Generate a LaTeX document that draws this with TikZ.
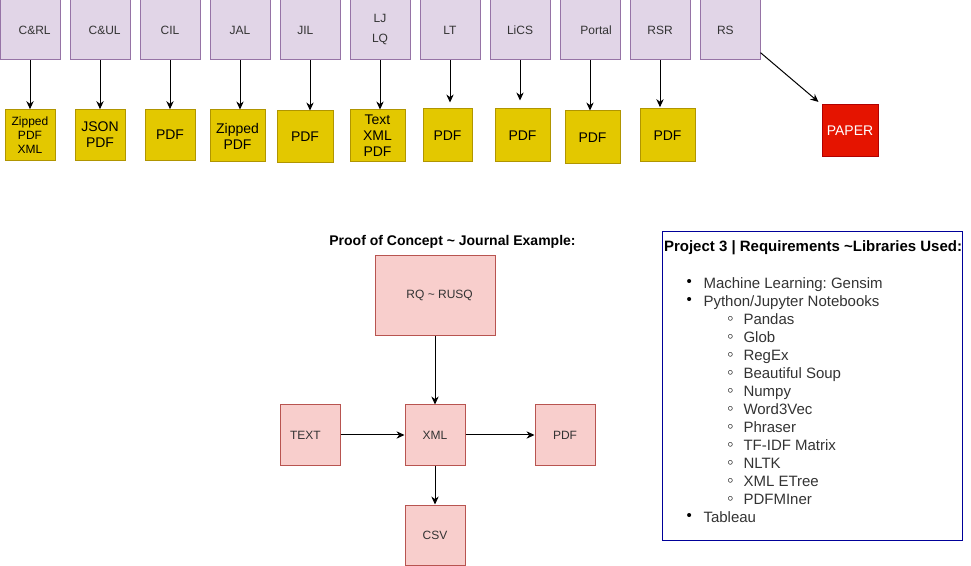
\documentclass[tikz,border=0pt]{standalone}
\usepackage{fontspec}
\setmainfont{Liberation Sans}
\usetikzlibrary{arrows.meta}
\frenchspacing

\definecolor{srcfill}{HTML}{E1D5E7}
\definecolor{srcline}{HTML}{9673A6}
\definecolor{fmtfill}{HTML}{E3C800}
\definecolor{fmtline}{HTML}{B09500}
\definecolor{paperfill}{HTML}{E51400}
\definecolor{paperline}{HTML}{B20000}
\definecolor{pocfill}{HTML}{F8CECC}
\definecolor{pocline}{HTML}{B85450}
\definecolor{libline}{HTML}{000099}
\definecolor{libtext}{HTML}{333333}

\begin{document}
\begin{tikzpicture}[x=0.75pt,y=-0.75pt,->,>={Stealth[length=6pt,width=5.5pt]},
		line width=0.75pt,node distance=52.5pt,
		src node/.style={rectangle,draw=srcline,fill=srcfill,minimum width=45pt,minimum height=45pt,
			inner sep=0pt,align=center,text=libtext,font=\fontsize{9}{15}\selectfont},
		fmt node/.style={rectangle,draw=fmtline,fill=fmtfill,minimum width=41.25pt,minimum height=39pt,
			inner sep=0pt,align=center,font=\fontsize{10.5}{12}\selectfont},
		narrow/.style={minimum width=37.5pt,minimum height=38pt},
		paper node/.style={rectangle,draw=paperline,fill=paperfill,minimum width=42pt,minimum height=39pt,
			inner sep=0pt,text=white,font=\fontsize{10.5}{12}\selectfont},
		poc node/.style={rectangle,draw=pocline,fill=pocfill,minimum width=45pt,minimum height=45pt,
			inner sep=0pt,text=libtext,font=\fontsize{9}{11}\selectfont},
		lib item/.style={anchor=west,inner sep=0pt,text height=8pt,text depth=0pt,text=libtext,
			font=\fontsize{11.25}{13.5}\selectfont,
			label={[label distance=8pt,inner sep=0pt,text=black,font=\fontsize{11.25}{13.5}\selectfont]left:\textbullet}},
		sub item/.style={anchor=west,inner sep=0pt,text height=8pt,text depth=0pt,text=libtext,
			font=\fontsize{11.25}{13.5}\selectfont,
			label={[label distance=7pt,inner sep=0pt,text=black,font=\fontsize{8}{9}\selectfont]left:$\circ$}}]

		\useasboundingbox (0,0) rectangle (971,566);

		% journals
		\node[src node] (crl) at (30,30) {\hspace*{7pt}C\&RL};
		\node[src node] (cul) [right of=crl] {\hspace*{7pt}C\&UL};
		\node[src node] (cil) [right of=cul] {CIL};
		\node[src node] (jal) [right of=cil] {JAL};
		\node[src node] (jil) [right of=jal] {JIL\hspace*{7pt}};
		\node[src node] (lj) [right of=jil] {LJ\\LQ};
		\node[src node] (lt) [right of=lj] {LT};
		\node[src node] (lics) [right of=lt] {LiCS};
		\node[src node] (portal) [right of=lics] {\hspace*{9pt}Portal};
		\node[src node] (rsr) [right of=portal] {RSR};
		\node[src node] (rs) [right of=rsr] {RS\hspace*{7pt}};

		% formats
		\node[fmt node,narrow,font=\fontsize{9}{10.5}\selectfont] (crlf) at (30,135) {Zipped\\PDF\\XML};
		\node[fmt node,narrow] (culf) at (100,135) {JSON\\PDF};
		\node[fmt node,narrow] (cilf) at (170,135) {PDF};
		\node[fmt node] (jalf) at (237.5,136) {Zipped\\PDF};
		\node[fmt node,minimum width=42pt] (jilf) at (305,137) {PDF};
		\node[fmt node] (ljf) at (377.5,136) {Text\\XML\\PDF};
		\node[fmt node,minimum width=36.75pt,minimum height=39.75pt] (ltf) at (447.5,135.5) {PDF};
		\node[fmt node,minimum height=39.75pt] (licsf) at (522.5,135.5) {PDF};
		\node[fmt node,minimum height=39.75pt] (portalf) at (592.5,137.5) {PDF};
		\node[fmt node,minimum height=39.75pt] (rsrf) at (667.5,135.5) {PDF};
		\node[paper node] (paper) at (850,131) {PAPER};

		\path
		(crl) edge (crl |- crlf.north)
		(cul) edge (cul |- culf.north)
		(cil) edge (cil |- cilf.north)
		(jal) edge (jal |- jalf.north)
		(jil) edge (jil |- jilf.north)
		(lj) edge (lj |- ljf.north)
		(lt) edge [shorten >=4.5pt] (lt |- ltf.north)
		(lics) edge [shorten >=6pt] (lics |- licsf.north)
		(portal) edge (portal |- portalf.north)
		(rsr) edge [shorten >=1pt] (rsr |- rsrf.north)
		([yshift=-17pt]rs.east) edge [shorten >=3pt] (paper.north west);

		% proof of concept
		\node[font=\bfseries\fontsize{10.5}{12}\selectfont] (poctitle) at (452.5,242) {Proof of Concept \textasciitilde{} Journal Example:};
		\node[poc node,minimum width=90pt,minimum height=60pt] (rq) at (435,295.5) {\hspace*{7pt}RQ \textasciitilde{} RUSQ};
		\node[poc node] (xml) at (435,435) {XML};
		\node[poc node] (text) at (310,435) {TEXT\hspace*{7pt}};
		\node[poc node] (pdf) at (565,435) {PDF};
		\node[poc node] (csv) at (435,535) {CSV};

		\path
		(rq) edge (xml)
		(text) edge (xml)
		(xml) edge (pdf)
		(xml) edge (csv);

		% libraries
		\node[draw=libline,minimum width=225pt,minimum height=231pt,inner sep=0pt] (libbox) at (812,386) {};
		\node[anchor=west,inner sep=0pt,font=\bfseries\fontsize{11.25}{13}\selectfont] (libtitle) at (663.5,248)
			{Project 3 | Requirements \textasciitilde Libraries Used:};
		\node[lib item] (gensim) at (703,283) {Machine Learning: Gensim};
		\node[lib item] (python) at (703,301) {Python/Jupyter Notebooks};
		\foreach \lib [count=\i] in {Pandas,Glob,RegEx,Beautiful Soup,Numpy,Word3Vec,Phraser,TF-IDF Matrix,NLTK,XML ETree,PDFMIner}
			\node[sub item] (lib\i) at (743,301+18*\i) {\lib};
		\node[lib item] (tableau) at (703,517) {Tableau};
	\end{tikzpicture}
\end{document}
